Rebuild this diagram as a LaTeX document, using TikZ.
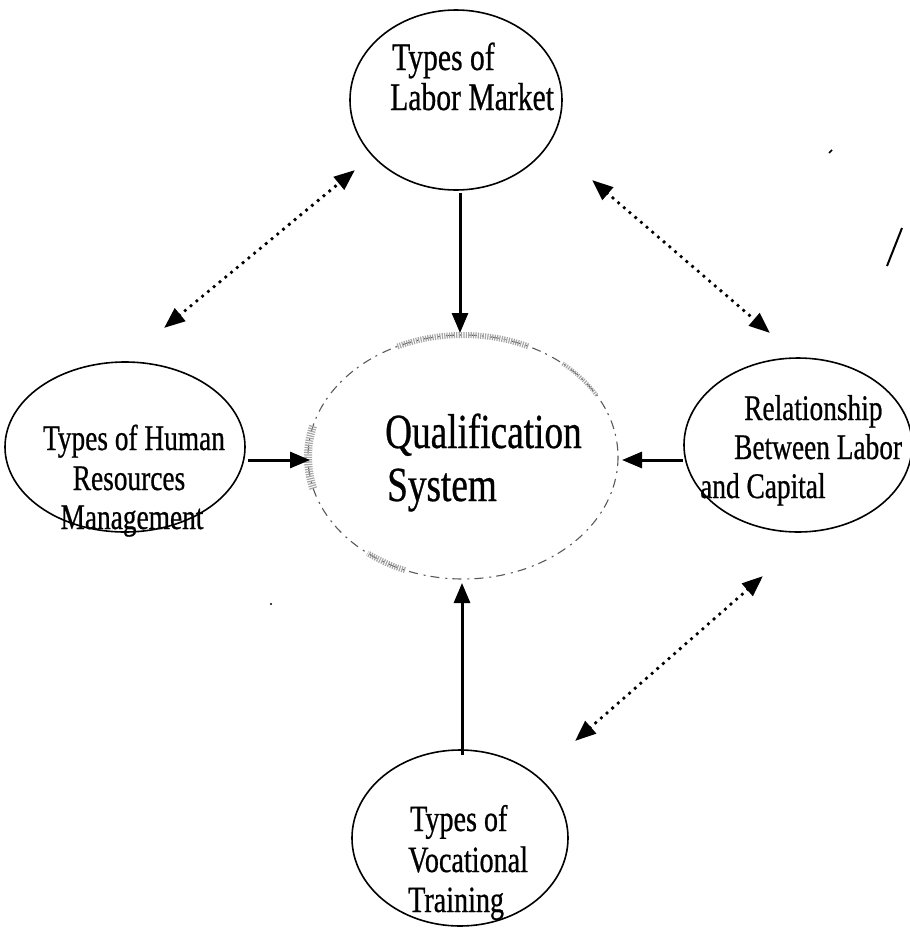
\documentclass[tikz,border=0pt]{standalone}
\usepackage{fontspec}
\setmainfont{Liberation Serif}
\newfontfamily\cond{Liberation Serif}[FakeStretch=0.76, FakeBold=0.6]
\usetikzlibrary{shapes.geometric,arrows.meta}

\tikzset{
  bubble/.style={ellipse, draw=black, line width=1.6pt, inner sep=0pt},
  label/.style={font=\cond, anchor=base west, inner sep=0pt},
  solidarrow/.style={line width=3pt, -{Triangle[length=20pt,width=16pt]}},
  dotarrow/.style={line width=3.8pt, dash pattern=on 0pt off 7.5pt, line cap=round,
    {Triangle[length=21pt,width=16pt]}-{Triangle[length=21pt,width=16pt]}},
  stipple/.style={line width=6pt, black!35, dash pattern=on 1.2pt off 1.2pt},
}

\begin{document}
\begin{tikzpicture}[x=1pt, y=-1pt]
\useasboundingbox (0,0) rectangle (910,930);

% outer bubbles
\node[bubble, minimum width=212pt, minimum height=180pt] (market) at (456,100) {};
\node[bubble, minimum width=240pt, minimum height=170pt] (hrm) at (125,447) {};
\node[bubble, minimum width=228pt, minimum height=174pt] (labcap) at (798,445) {};
\node[bubble, minimum width=216pt, minimum height=176pt] (voc) at (460,838) {};

% central bubble, faint broken outline with grainy patches
\node[ellipse, minimum width=310pt, minimum height=244pt, inner sep=0pt] (qual) at (463,457) {};
\draw[black!65, line width=1.1pt, dash pattern=on 9pt off 5pt on 2pt off 6pt] (qual.center) ellipse[x radius=155, y radius=122];
\draw[stipple] (qual.center) ++(245:155 and 122) arc[start angle=245, end angle=295, x radius=155, y radius=122];
\draw[stipple, line width=8pt] (qual.center) ++(165:155 and 122) arc[start angle=165, end angle=195, x radius=155, y radius=122];
\draw[stipple] (qual.center) ++(112:155 and 122) arc[start angle=112, end angle=128, x radius=155, y radius=122];
\draw[stipple, line width=4pt] (qual.center) ++(310:155 and 122) arc[start angle=310, end angle=330, x radius=155, y radius=122];

% texts
\node[label, font=\cond\fontsize{39}{44}\selectfont] (m1) at (392,70) {Types of};
\node[label, font=\cond\fontsize{39}{44}\selectfont] (m2) at (390,110) {Labor Market};

\node[label, font=\cond\fontsize{36}{42}\selectfont, anchor=base] (h1) at (134,450) {Types of Human};
\node[label, font=\cond\fontsize{36}{42}\selectfont, anchor=base] (h2) at (129,490) {Resources};
\node[label, font=\cond\fontsize{36}{42}\selectfont, anchor=base] (h3) at (132,529) {Management};

\node[label, font=\cond\fontsize{36}{42}\selectfont] (l1) at (744,420) {Relationship};
\node[label, font=\cond\fontsize{36}{42}\selectfont] (l2) at (734,459) {Between\ Labor};
\node[label, font=\cond\fontsize{36}{42}\selectfont] (l3) at (700,498) {and Capital};

\node[label, font=\cond\fontsize{37}{44}\selectfont] (v1) at (410,831) {Types of};
\node[label, font=\cond\fontsize{37}{44}\selectfont] (v2) at (408,872) {Vocational};
\node[label, font=\cond\fontsize{37}{44}\selectfont] (v3) at (408,912) {Training};

\node[label, font=\cond\fontsize{49}{56}\selectfont] (q1) at (385,448) {Qualification};
\node[label, font=\cond\fontsize{49}{56}\selectfont] (q2) at (387,501) {System};

% connector end points
\coordinate (mS) at (460,193);
\coordinate (qN) at (460,333);
\coordinate (vN) at (462,755);
\coordinate (qS) at (462,583);
\coordinate (hE) at (248,460);
\coordinate (qW) at (310,460);
\coordinate (lW) at (683,460);
\coordinate (qE) at (622,460);

\coordinate (tlA) at (164,328);
\coordinate (tlB) at (355,170);
\coordinate (trA) at (592,180);
\coordinate (trB) at (770,333);
\coordinate (brA) at (575,741);
\coordinate (brB) at (763,576);

% influences on the qualification system
\draw[solidarrow] (mS) -- (qN);
\draw[solidarrow] (vN) -- (qS);
\draw[solidarrow] (hE) -- (qW);
\draw[solidarrow] (lW) -- (qE);

% mutual relations between the outer factors
\draw[dotarrow] (tlA) -- (tlB);
\draw[dotarrow] (trA) -- (trB);
\draw[dotarrow] (brA) -- (brB);

% small pen marks
\coordinate (s1) at (887,266);
\coordinate (s2) at (902,228);
\draw[line width=2pt] (s1) -- (s2);
\coordinate (d1) at (829,153);
\coordinate (d2) at (832,150);
\draw[line width=1.5pt] (d1) -- (d2);
\coordinate (d3) at (271,604);
\fill (d3) circle[radius=1.2];
\end{tikzpicture}
\end{document}
